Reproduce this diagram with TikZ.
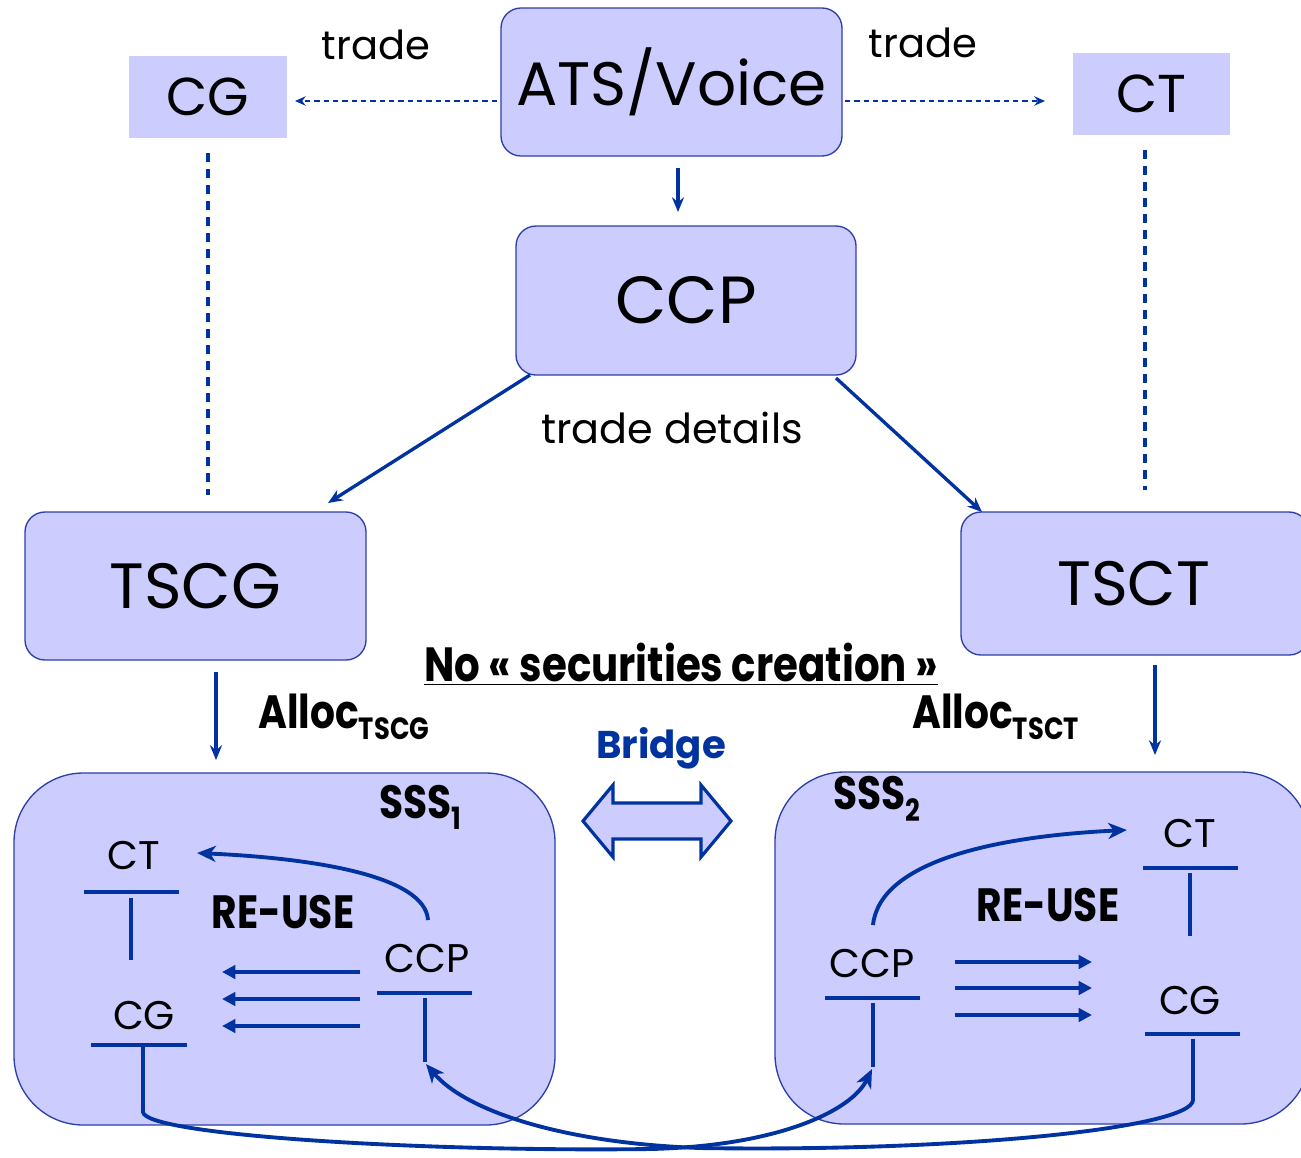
\documentclass[tikz,border=0pt]{standalone}
\usepackage{fontspec}
\setmainfont{Poppins}
\newfontfamily\bcond{Poppins}[FakeStretch=0.84]
\usetikzlibrary{arrows.meta}
\definecolor{boxfill}{HTML}{CCCCFF}
\definecolor{lineblue}{HTML}{0033A0}
\definecolor{edgeblue}{HTML}{2B3FA8}
\tikzset{
  rbox/.style={draw=edgeblue, line width=1pt, fill=boxfill, rounded corners=15pt, inner sep=0pt},
  sbox/.style={fill=boxfill, inner sep=0pt},
  flow/.style={draw=lineblue, line width=2.5pt, -{Stealth[length=11pt,width=9pt]}},
  dflow/.style={draw=lineblue, line width=1.5pt, dash pattern=on 4pt off 3pt, -{Stealth[length=8pt,width=7pt]}},
  dline/.style={draw=lineblue, line width=2.4pt, dash pattern=on 7pt off 5pt},
  tline/.style={draw=lineblue, line width=2.6pt},
  harrow/.style={draw=lineblue, line width=3.4pt, -{Triangle[length=10pt,width=10pt]}},
  carrow/.style={draw=lineblue, line width=2.9pt, -{Stealth[length=14pt,width=12pt,inset=4pt]}},
  acct/.style={inner sep=0pt, font=\fontsize{30}{30}\selectfont},
  bold/.style={inner sep=0pt, font=\bcond\bfseries\fontsize{35}{35}\selectfont},
}
\begin{document}
\begin{tikzpicture}[x=0.75pt, y=-0.75pt]
\useasboundingbox (0,0) rectangle (1301,1157);
% top row
\node[rbox, minimum width=255.75pt, minimum height=111pt, font=\fontsize{46}{46}\selectfont] (ats) at (671.5,82) {ATS/Voice};
\node[sbox, minimum width=118.5pt, minimum height=61.5pt, font=\fontsize{40}{40}\selectfont] (cgtop) at (208,97) {CG};
\node[sbox, minimum width=117.75pt, minimum height=61.5pt, font=\fontsize{40}{40}\selectfont] (cttop) at (1151.5,94) {CT};
\node[inner sep=0pt, font=\fontsize{30}{30}\selectfont] (tradeL) at (376,45) {trade};
\node[inner sep=0pt, font=\fontsize{30}{30}\selectfont] (tradeR) at (923,43) {trade};
\coordinate (atsL) at (497,101);
\coordinate (atsR) at (845,101);
\coordinate (cgR) at (295,101);
\coordinate (ctL) at (1045,101);
\draw[dflow] (atsL) -- (cgR);
\draw[dflow] (atsR) -- (ctL);
% CCP
\node[rbox, minimum width=255pt, minimum height=111.75pt, font=\fontsize{50}{50}\selectfont] (ccp) at (686,300.5) {CCP};
\coordinate (atsB) at (678,168);
\coordinate (ccpT) at (678,212);
\draw[flow] (atsB) -- (ccpT);
\node[inner sep=0pt, font=\fontsize{31}{31}\selectfont] (details) at (672,428) {trade details};
% TS boxes
\node[rbox, minimum width=255.75pt, minimum height=111pt, font=\fontsize{48}{48}\selectfont] (tscg) at (195.5,586) {TSCG};
\node[rbox, minimum width=261pt, minimum height=107.25pt, font=\fontsize{47}{47}\selectfont] (tsct) at (1135,583.5) {\hspace*{-2pt}TSCT};
\coordinate (ccpBL) at (530,375);
\coordinate (tscgT) at (328,503);
\coordinate (ccpBR) at (836,378);
\coordinate (tsctT) at (982,512);
\draw[flow] (ccpBL) -- (tscgT);
\draw[flow] (ccpBR) -- (tsctT);
\coordinate (cgB) at (208,153);
\coordinate (cgD) at (208,495);
\coordinate (ctB) at (1145,150);
\coordinate (ctD) at (1145,490);
\draw[dline] (cgB) -- (cgD);
\draw[dline] (ctB) -- (ctD);
% middle labels
\node[bold, font=\bcond\bfseries\fontsize{36}{36}\selectfont] (nosec) at (681,664) {\underline{No « securities creation »}};
\node[bold, anchor=west] (alloc1) at (258,717) {Alloc\textsubscript{\fontsize{23}{23}\selectfont TSCG}};
\node[bold, anchor=west] (alloc2) at (912,717) {Alloc\textsubscript{\fontsize{23}{23}\selectfont TSCT}};
\node[inner sep=0pt, text=lineblue, font=\bfseries\fontsize{29}{29}\selectfont] (bridge) at (661,748) {Bridge};
\coordinate (tscgB) at (216,672);
\coordinate (sss1T) at (216,760);
\coordinate (tsctB) at (1155,665);
\coordinate (sss2T) at (1155,755);
\draw[flow] (tscgB) -- (sss1T);
\draw[flow] (tsctB) -- (sss2T);
\draw[draw=lineblue, line width=2.4pt, fill=boxfill, line join=miter]
  (583,821) -- (613,785) -- (613,803) -- (701,803) -- (701,785) -- (731,821)
  -- (701,857) -- (701,839) -- (613,839) -- (613,857) -- cycle;
% SSS boxes
\node[rbox, rounded corners=52pt, minimum width=405.75pt, minimum height=264pt] (sss1) at (284.5,949) {};
\node[rbox, rounded corners=52pt, minimum width=401.25pt, minimum height=264pt] (sss2) at (1042.5,948) {};
\node[bold, anchor=west] (sss1lab) at (379,807) {SSS\textsubscript{\fontsize{23}{23}\selectfont 1}};
\node[bold, anchor=west] (sss2lab) at (833,799) {SSS\textsubscript{\fontsize{23}{23}\selectfont 2}};
% SSS1 accounts
\node[acct] (ct1) at (134,855) {CT};
\node[acct] (cg1) at (144,1015) {CG};
\node[acct] (ccp1) at (427,958) {CCP};
\node[bold] (reuse1) at (283,912) {RE-USE};
\draw[tline] (84,892) -- (179,892);
\draw[tline] (131,898) -- (131,960);
\draw[tline] (91,1045) -- (187,1045);
\draw[tline] (377,993) -- (472,993);
\draw[tline] (425,998) -- (425,1062);
\foreach \yy in {972,999,1026} \draw[harrow] (360,\yy) -- (222,\yy);
\coordinate (ccp1top) at (428,920);
\coordinate (ct1arr) at (197,853);
\draw[carrow] (ccp1top) .. controls (425,875) and (310,858) .. (ct1arr);
% SSS2 accounts
\node[acct] (ct2) at (1190,833) {CT};
\node[acct] (cg2) at (1190,1000) {CG};
\node[acct] (ccp2) at (872,963) {CCP};
\node[bold] (reuse2) at (1048,905) {RE-USE};
\draw[tline] (1143,868) -- (1238,868);
\draw[tline] (1190,873) -- (1190,936);
\draw[tline] (1145,1034) -- (1240,1034);
\draw[tline] (825,998) -- (920,998);
\draw[tline] (873,1003) -- (873,1067);
\foreach \yy in {962,988,1015} \draw[harrow] (955,\yy) -- (1092,\yy);
\coordinate (ccp2top) at (873,925);
\coordinate (ct2arr) at (1127,830);
\draw[carrow] (ccp2top) .. controls (880,860) and (1000,836) .. (ct2arr);
% bottom cross curves
\coordinate (cg1v) at (143,1047);
\coordinate (ccp2v) at (872,1069);
\coordinate (cg2v) at (1193,1039);
\coordinate (ccp1v) at (426,1064);
\draw[carrow] (cg1v) -- (143,1112) .. controls (145,1135) and (420,1152) .. (650,1149) .. controls (780,1146) and (852,1110) .. (ccp2v);
\draw[carrow] (cg2v) -- (1193,1100) .. controls (1192,1128) and (960,1152) .. (700,1148) .. controls (560,1143) and (465,1110) .. (ccp1v);
\end{tikzpicture}
\end{document}
